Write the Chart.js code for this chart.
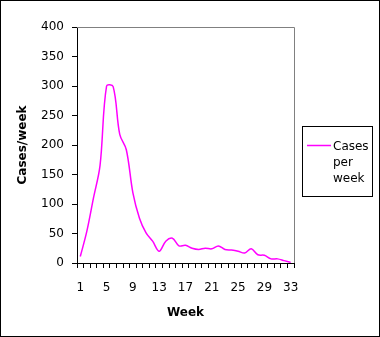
<!DOCTYPE html>
<html>
<head>
<meta charset="utf-8">
<script src="https://cdn.jsdelivr.net/npm/chart.js@4.4.1/dist/chart.umd.min.js"></script>
<style>
  html, body { margin: 0; padding: 0; background: #fff; }
  canvas { display: block; }
</style>
</head>
<body>
<canvas id="casesChart" width="380" height="337"></canvas>
<script>
const weeks = [
    "1", "2", "3", "4", "5", "6", "7", "8", "9", "10", "11",
    "12", "13", "14", "15", "16", "17", "18", "19", "20", "21", "22",
    "23", "24", "25", "26", "27", "28", "29", "30", "31", "32", "33"
];
const casesPerWeek = [
    11, 54, 110, 165, 300, 299, 218, 192, 119, 76, 51,
    37, 20, 37, 42, 29, 30, 25, 23, 25, 24, 29,
    23, 22, 20, 17, 24, 14, 13, 7, 7, 4, 1
];
const seriesLabel = "Cases per week";
const yMin = 0;
const yMax = 400;
const yStep = 50;

const FONT = "'DejaVu Sans', sans-serif";
const LINE_COLOR = "#ff00ff";

// gray frame on top/right of the plot, outer border and the boxed legend
const framePlugin = {
    id: "frame",
    beforeDatasetsDraw(chart) {
        const { ctx, chartArea } = chart;
        ctx.save();
        ctx.strokeStyle = "#808080";
        ctx.lineWidth = 1;
        ctx.beginPath();
        ctx.moveTo(chartArea.left, chartArea.top + 0.5);
        ctx.lineTo(chartArea.right + 0.5, chartArea.top + 0.5);
        ctx.lineTo(chartArea.right + 0.5, chartArea.bottom);
        ctx.stroke();
        ctx.restore();
    },
    afterDraw(chart) {
        const { ctx } = chart;
        ctx.save();
        ctx.strokeStyle = "#000";
        ctx.lineWidth = 1;
        ctx.strokeRect(0.5, 0.5, chart.width - 1, chart.height - 1);

        // legend
        ctx.strokeRect(302.5, 126.5, 70, 70);
        ctx.strokeStyle = LINE_COLOR;
        ctx.lineWidth = 1.5;
        ctx.beginPath();
        ctx.moveTo(307, 145.5);
        ctx.lineTo(331, 145.5);
        ctx.stroke();
        ctx.fillStyle = "#000";
        ctx.font = "12px " + FONT;
        ctx.textBaseline = "alphabetic";
        seriesLabel.split(" ").forEach((word, i) => {
            ctx.fillText(word, 333, 150 + i * 16);
        });
        ctx.restore();
    }
};

const ctx = document.getElementById("casesChart");
new Chart(ctx, {
    type: "line",
    data: {
        labels: weeks,
        datasets: [
            {
                label: seriesLabel,
                data: casesPerWeek,
                borderColor: LINE_COLOR,
                backgroundColor: LINE_COLOR,
                borderWidth: 1.5,
                fill: false,
                tension: 0.35,
                pointRadius: 0,
            },
        ],
    },
    options: {
        responsive: false,
        animation: false,
        events: [],
        layout: {
            padding: { left: 0, top: 27, right: 86, bottom: 0 },
        },
        plugins: {
            legend: { display: false },
            tooltip: { enabled: false },
        },
        scales: {
            x: {
                type: "category",
                offset: true,
                afterFit: (scale) => { scale.height = 74; },
                grid: {
                    offset: true,
                    drawOnChartArea: false,
                    drawTicks: true,
                    tickLength: 5,
                    color: "#000",
                },
                border: { color: "#000", width: 1 },
                ticks: {
                    autoSkip: false,
                    maxRotation: 0,
                    padding: 13,
                    color: "#000",
                    font: { family: FONT, size: 12 },
                    callback: function (value, index) {
                        return index % 4 === 0 ? this.getLabelForValue(value) : "";
                    },
                },
                title: {
                    display: true,
                    text: "Week",
                    color: "#000",
                    font: { family: FONT, size: 12, weight: "bold" },
                    padding: { top: 0, bottom: 17 },
                },
            },
            y: {
                min: yMin,
                max: yMax,
                afterFit: (scale) => { scale.width = 77; },
                grid: {
                    drawOnChartArea: false,
                    drawTicks: true,
                    tickLength: 5,
                    color: "#000",
                },
                border: { color: "#000", width: 1 },
                ticks: {
                    stepSize: yStep,
                    padding: 8,
                    color: "#000",
                    font: { family: FONT, size: 12 },
                },
                title: {
                    display: true,
                    text: "Cases/week",
                    color: "#000",
                    font: { family: FONT, size: 12, weight: "bold" },
                    padding: { top: 16, bottom: 0 },
                },
            },
        },
    },
    plugins: [framePlugin],
});
</script>
</body>
</html>
